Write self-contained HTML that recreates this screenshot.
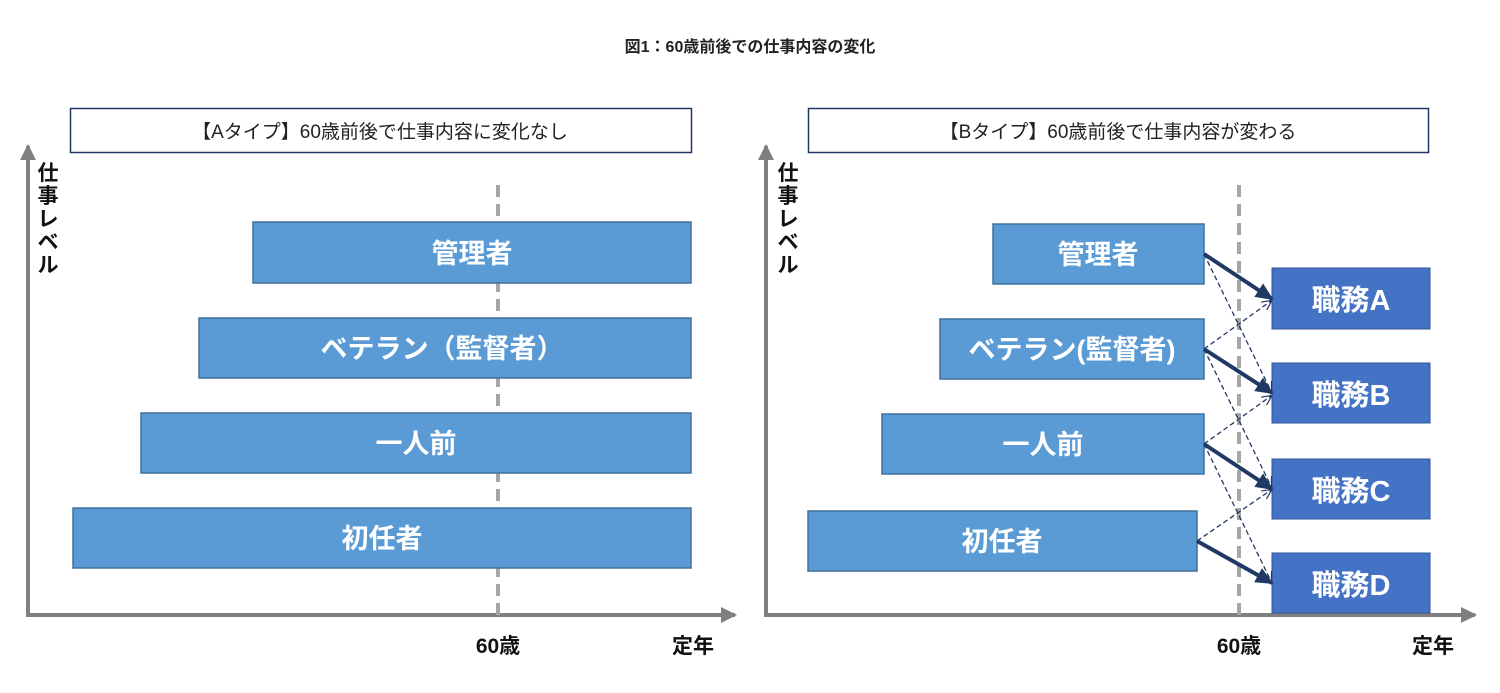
<!DOCTYPE html>
<html><head><meta charset="utf-8"><style>
body{margin:0;background:#fff;}
svg{display:block;font-family:"Liberation Sans","Noto Sans CJK JP",sans-serif;}
</style></head><body>
<svg width="1500" height="693" viewBox="0 0 1500 693" xmlns="http://www.w3.org/2000/svg">
<defs>
<marker id="ga" markerWidth="16" markerHeight="16" refX="14" refY="8" orient="auto" markerUnits="userSpaceOnUse"><path d="M0,0 L16,8 L0,16 z" fill="#7f7f7f"/></marker>
<marker id="na" markerWidth="18" markerHeight="16" refX="16" refY="8" orient="auto" markerUnits="userSpaceOnUse"><path d="M0,0 L18,8 L0,16 z" fill="#203864"/></marker>
<marker id="nd" markerWidth="10" markerHeight="10" refX="9" refY="5" orient="auto" markerUnits="userSpaceOnUse"><path d="M0,0 L10,5 L0,10" fill="none" stroke="#203864" stroke-width="1.2"/></marker>
</defs>
<text x="750" y="52" text-anchor="middle" font-size="16" fill="#222" font-weight="bold">図1：60歳前後での仕事内容の変化</text>

<!-- Left panel -->
<rect x="70.5" y="108.5" width="621" height="44" fill="#fff" stroke="#1f3864" stroke-width="1.5"/>
<text x="380" y="138" text-anchor="middle" font-size="19" fill="#222">【Aタイプ】60歳前後で仕事内容に変化なし</text>
<line x1="28" y1="615" x2="28" y2="146" stroke="#7f7f7f" stroke-width="4" marker-end="url(#ga)"/>
<line x1="26" y1="615" x2="735" y2="615" stroke="#7f7f7f" stroke-width="4" marker-end="url(#ga)"/>
<line x1="498" y1="185" x2="498" y2="615" stroke="#a6a6a6" stroke-width="4" stroke-dasharray="12,7"/>
<g fill="#5b9bd5" stroke="#41719c" stroke-width="1.5">
<rect x="253" y="222" width="438" height="61"/>
<rect x="199" y="318" width="492" height="60"/>
<rect x="141" y="413" width="550" height="60"/>
<rect x="73" y="508" width="618" height="60"/>
</g>
<g fill="#fff" font-size="27" font-weight="bold" text-anchor="middle">
<text x="472" y="263">管理者</text>
<text x="442" y="358">ベテラン（監督者）</text>
<text x="416" y="453">一人前</text>
<text x="382" y="548">初任者</text>
</g>
<g font-size="21" font-weight="bold" fill="#111" text-anchor="middle">
<text x="48" y="180">仕</text><text x="48" y="203">事</text><text x="48" y="226">レ</text><text x="48" y="249">ベ</text><text x="48" y="272">ル</text>
<text x="498" y="653">60歳</text><text x="693" y="653">定年</text>
</g>

<!-- Right panel -->
<rect x="808.5" y="108.5" width="620" height="44" fill="#fff" stroke="#1f3864" stroke-width="1.5"/>
<text x="1118" y="138" text-anchor="middle" font-size="19" fill="#222">【Bタイプ】60歳前後で仕事内容が変わる</text>
<line x1="766" y1="615" x2="766" y2="146" stroke="#7f7f7f" stroke-width="4" marker-end="url(#ga)"/>
<line x1="764" y1="615" x2="1475" y2="615" stroke="#7f7f7f" stroke-width="4" marker-end="url(#ga)"/>
<line x1="1239" y1="185" x2="1239" y2="615" stroke="#a6a6a6" stroke-width="4" stroke-dasharray="12,7"/>
<g fill="#5b9bd5" stroke="#41719c" stroke-width="1.5">
<rect x="993" y="224" width="211" height="60"/>
<rect x="940" y="319" width="264" height="60"/>
<rect x="882" y="414" width="322" height="60"/>
<rect x="808" y="511" width="389" height="60"/>
</g>
<g fill="#4472c4" stroke="#2f5597" stroke-width="1">
<rect x="1272" y="268" width="158" height="61"/>
<rect x="1272" y="363" width="158" height="60"/>
<rect x="1272" y="459" width="158" height="60"/>
<rect x="1272" y="553" width="158" height="60"/>
</g>
<g fill="#fff" font-size="27" font-weight="bold" text-anchor="middle">
<text x="1098" y="264">管理者</text>
<text x="1072" y="359">ベテラン(監督者)</text>
<text x="1043" y="454">一人前</text>
<text x="1002" y="551">初任者</text>
</g>
<g fill="#fff" font-size="29" font-weight="bold" text-anchor="middle">
<text x="1351" y="310">職務A</text>
<text x="1351" y="405">職務B</text>
<text x="1351" y="501">職務C</text>
<text x="1351" y="595">職務D</text>
</g>
<g stroke="#203864" stroke-width="1.3" stroke-dasharray="5,3" fill="none">
<line x1="1204" y1="254" x2="1271" y2="391" marker-end="url(#nd)"/>
<line x1="1204" y1="349" x2="1271" y2="301" marker-end="url(#nd)"/>
<line x1="1204" y1="349" x2="1271" y2="486" marker-end="url(#nd)"/>
<line x1="1204" y1="444" x2="1271" y2="396" marker-end="url(#nd)"/>
<line x1="1204" y1="444" x2="1271" y2="581" marker-end="url(#nd)"/>
<line x1="1197" y1="541" x2="1271" y2="490" marker-end="url(#nd)"/>
</g>
<g stroke="#203864" stroke-width="4" fill="none">
<line x1="1204" y1="254" x2="1272" y2="299" marker-end="url(#na)"/>
<line x1="1204" y1="349" x2="1272" y2="393" marker-end="url(#na)"/>
<line x1="1204" y1="444" x2="1272" y2="489" marker-end="url(#na)"/>
<line x1="1197" y1="541" x2="1272" y2="583" marker-end="url(#na)"/>
</g>
<g font-size="21" font-weight="bold" fill="#111" text-anchor="middle">
<text x="788" y="180">仕</text><text x="788" y="203">事</text><text x="788" y="226">レ</text><text x="788" y="249">ベ</text><text x="788" y="272">ル</text>
<text x="1239" y="653">60歳</text><text x="1433" y="653">定年</text>
</g>
</svg>
</body></html>
